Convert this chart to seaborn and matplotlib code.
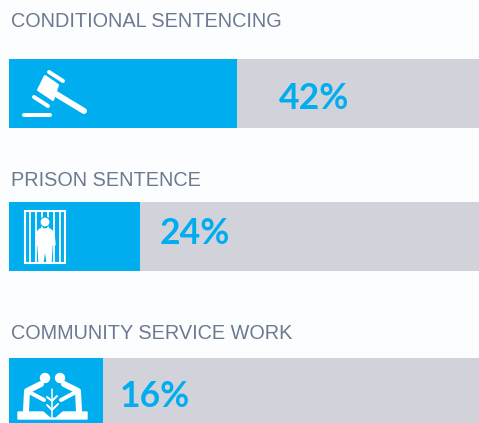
import matplotlib
matplotlib.use("Agg")
import matplotlib.pyplot as plt
import seaborn as sns
from matplotlib.patches import Circle, Polygon, Rectangle

# Data
categories = ['CONDITIONAL SENTENCING', 'PRISON SENTENCE', 'COMMUNITY SERVICE WORK']
bar_lengths = [42, 24, 17.3]  # as drawn, the third bar is longer than its label says
value_labels = ['42%', '24%', '16%']
track_max = 86.4

# Layout in pixels
W, H = 479, 423
BAR_LEFT = 9
BAR_H = 69
bar_tops = [59, 202, 358]
title_y = [27, 186, 339]
label_x = [279, 160, 120]
label_y = [98.5, 233.5, 396.5]

BLUE = '#00AEEF'
GREY = '#D2D2DA'
TEXT = '#6C7A90'
BG = '#FCFDFE'

sns.set_theme(style="white")

fig = plt.figure(figsize=(W / 100, H / 100), dpi=100, facecolor=BG)

for cat, length, label, top, ty, lx, ly in zip(categories, bar_lengths, value_labels, bar_tops, title_y, label_x, label_y):
    ax = fig.add_axes([BAR_LEFT / W, 1 - (top + BAR_H) / H, (W - BAR_LEFT) / W, BAR_H / H])
    sns.barplot(x=[length], y=[cat], orient='h', width=1, color=BLUE, saturation=1, linewidth=0, ax=ax)
    ax.set_facecolor(GREY)
    ax.set_xlim(0, track_max)
    ax.set_ylim(0.5, -0.5)
    ax.set(xlabel=None, ylabel=None, xticks=[], yticks=[])
    sns.despine(ax=ax, left=True, bottom=True)
    fig.text(lx / W, 1 - ly / H, label, color=BLUE, fontsize=25.6,
             family='Lato', fontweight='bold', ha='left', va='center')
    fig.text(11 / W, 1 - ty / H, cat, color=TEXT, fontsize=14.3, family='Liberation Sans',
             ha='left', va='baseline')

# Overlay in pixel coordinates for the icons
ov = fig.add_axes([0, 0, 1, 1], zorder=5)
ov.set_xlim(0, W)
ov.set_ylim(H, 0)
ov.axis('off')


def stroke(xs, ys, lw):
    ov.plot(xs, ys, color='white', lw=lw * 0.72, solid_capstyle='round', solid_joinstyle='round')


# Gavel
ov.add_patch(Polygon([(45, 76), (58, 85), (53, 100), (38, 90)], color='white', lw=1.5, joinstyle='round'))
stroke([49, 63], [72, 81], 4)
stroke([34, 48], [97, 106], 4)
stroke([56, 84], [94, 111], 6)
stroke([24, 50], [115, 115], 4)

# Prison
ov.add_patch(Rectangle((25, 211), 40, 52, fill=False, ec='white', lw=1.5))
for x in [30, 36, 42, 48, 54, 60]:
    ov.plot([x, x], [211, 263], color='white', lw=1.3)
ov.add_patch(Circle((45, 222), 5, color='white', ec=BLUE, lw=0.8, zorder=4))
ov.add_patch(Polygon([(40, 229), (50, 229), (54, 233), (55, 245), (52, 245), (51, 262),
                      (47, 262), (45, 248), (43, 262), (39, 262), (38, 245), (36, 245), (36, 233)],
                     color='white', zorder=4))

# Community service
ov.add_patch(Circle((45, 378), 4.5, color='white'))
ov.add_patch(Circle((60, 378), 4.5, color='white'))
stroke([41, 27, 26], [384, 391, 411], 6)
stroke([29, 44], [392, 400], 4)
stroke([64, 78, 79], [384, 391, 411], 6)
stroke([76, 61], [392, 400], 4)
ov.add_patch(Polygon([(18, 412), (43, 412), (50, 418), (56, 418), (63, 412), (87, 412),
                      (87, 419), (18, 419)], color='white'))
stroke([52, 52], [389, 417], 1.5)
stroke([52, 47], [401, 397], 2)
stroke([52, 57], [401, 396], 2)
stroke([52, 47], [410, 405], 2)
stroke([52, 58], [410, 404], 2)

fig.savefig('out.png', dpi=100, facecolor=BG)
